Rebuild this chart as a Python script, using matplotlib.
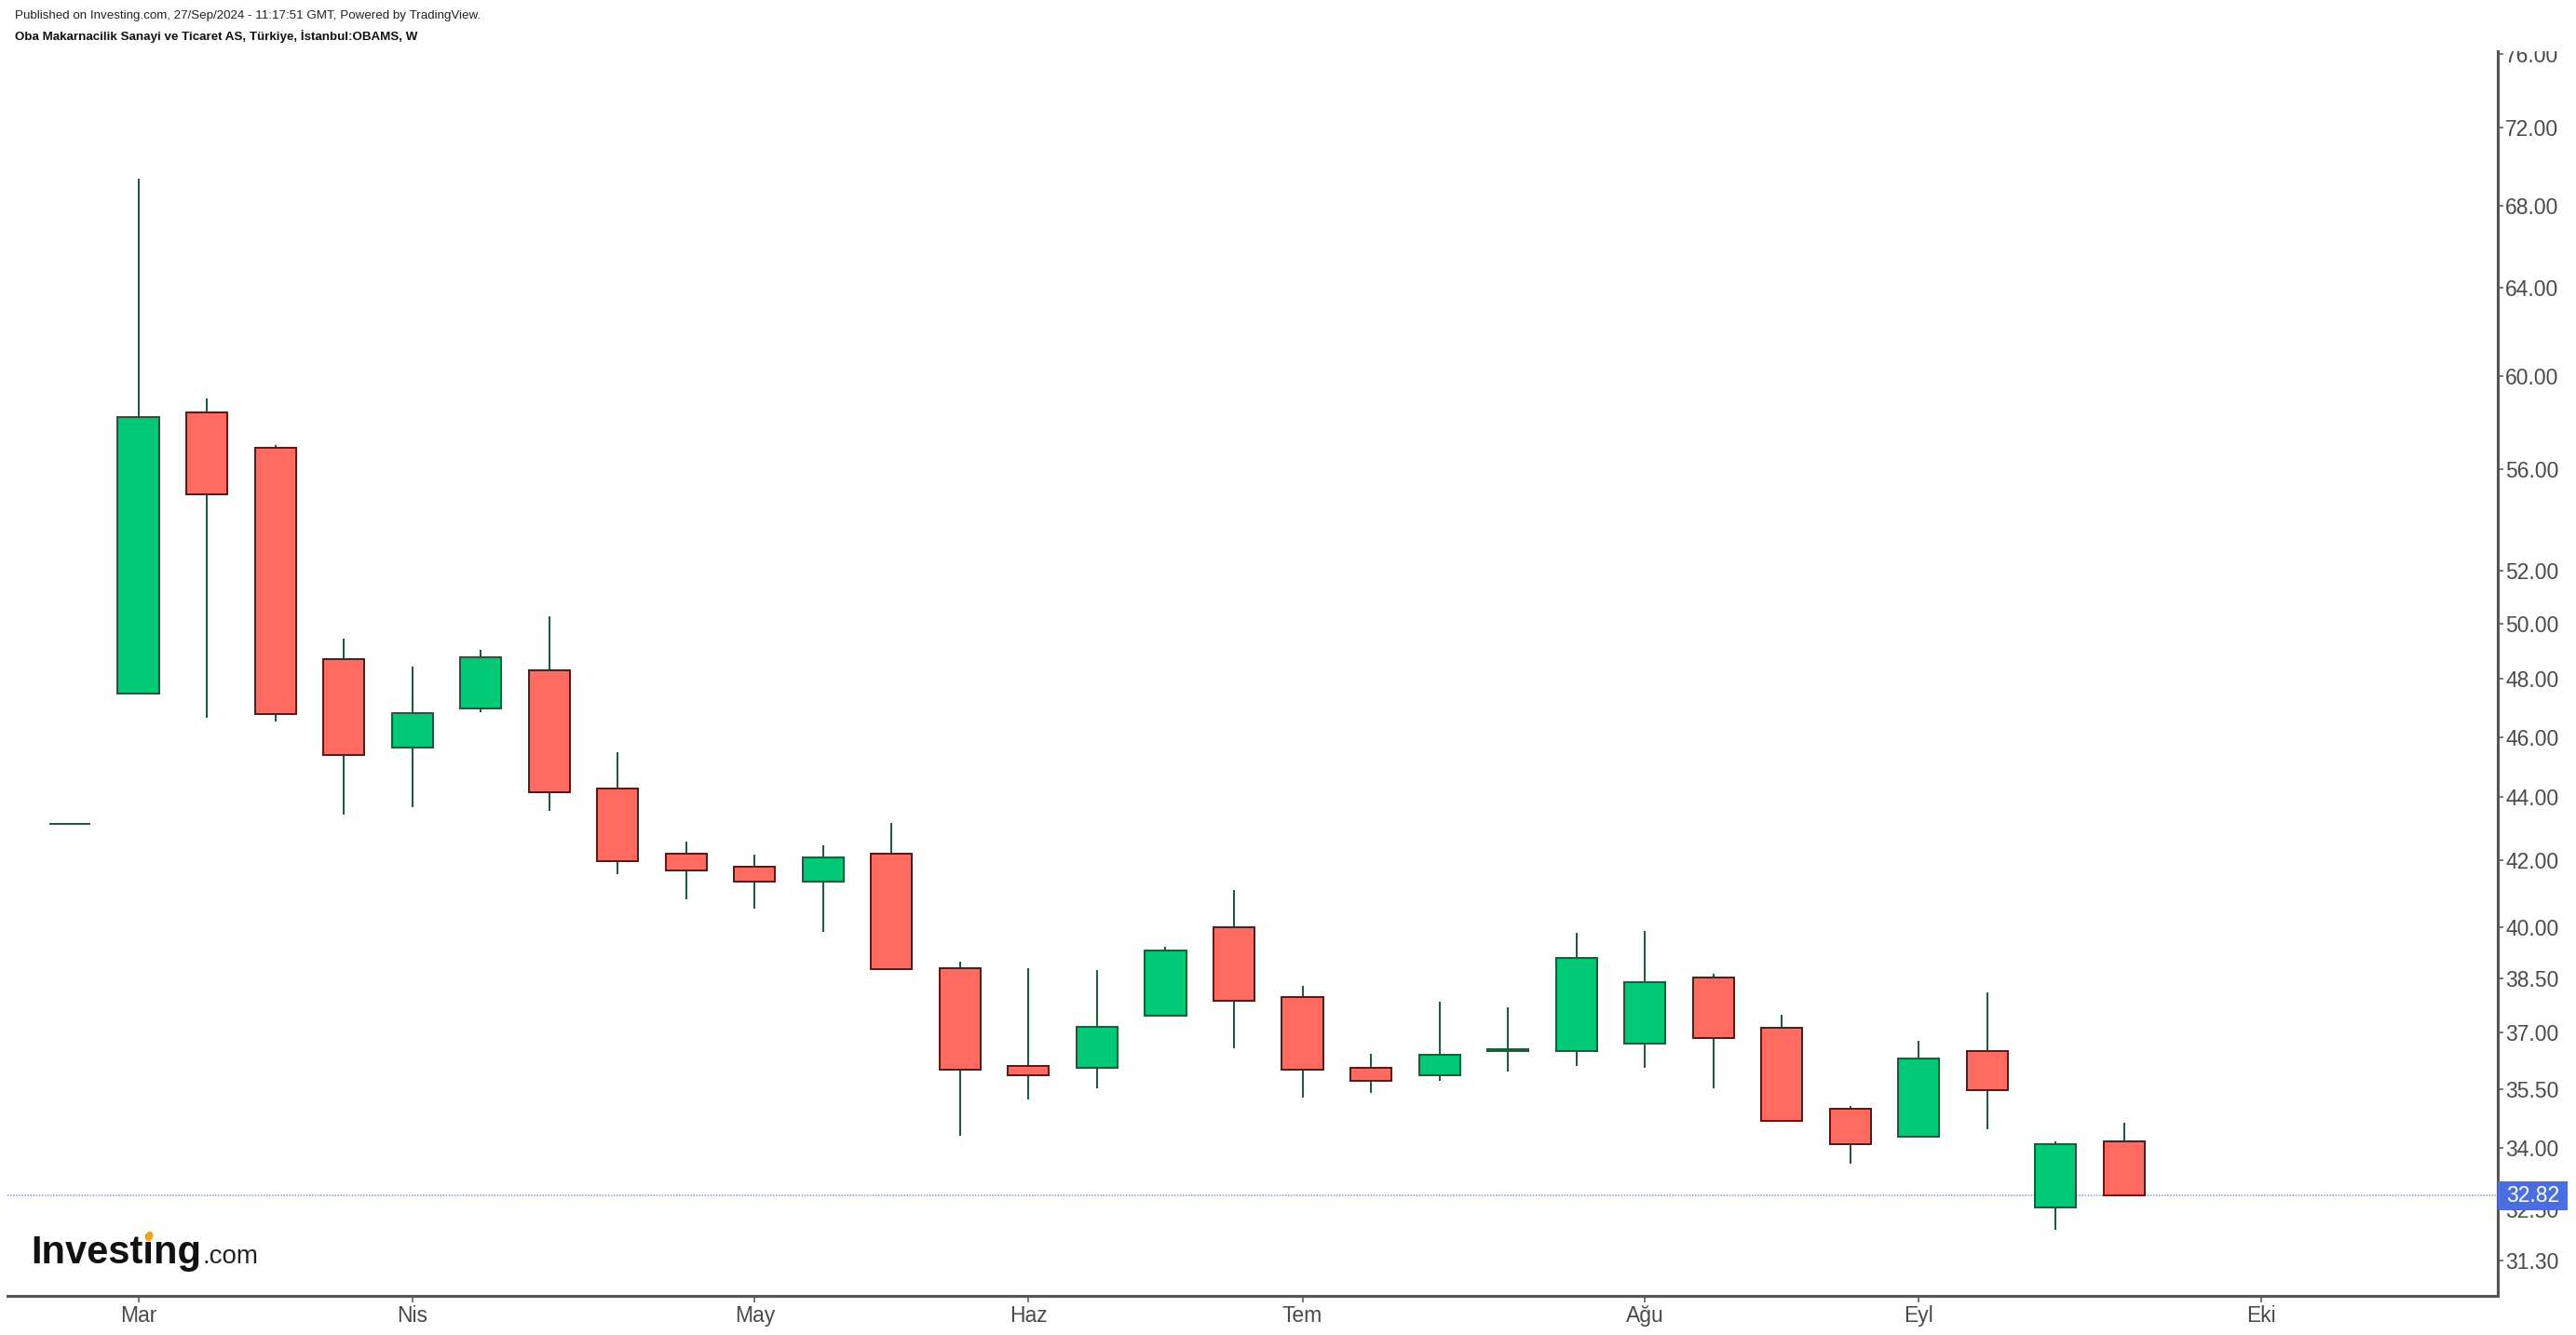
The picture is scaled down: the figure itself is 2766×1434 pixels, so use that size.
import matplotlib
matplotlib.use("Agg")
import matplotlib.pyplot as plt
import matplotlib.ticker as mticker
from matplotlib.patches import Rectangle, Ellipse
from matplotlib.transforms import IdentityTransform
import pandas as pd

# ---------------- data ----------------
week_start = "2024-02-26"
opens  = [43.16, 47.48, 58.41, 56.92, 48.70, 45.64, 46.97, 48.30, 44.30, 42.21,
          41.81, 41.35, 42.22, 38.79, 36.11, 36.06, 37.47, 39.98, 37.99, 36.06,
          35.86, 36.51, 36.51, 36.71, 38.53, 37.13, 35.00, 34.29, 36.52, 32.54,
          34.15]
highs  = [43.16, 69.36, 59.01, 57.02, 49.45, 48.44, 49.04, 50.27, 45.49, 42.59,
          42.18, 42.48, 43.18, 39.00, 38.80, 38.74, 39.43, 41.10, 38.31, 36.43,
          37.86, 37.70, 39.83, 39.88, 38.65, 37.50, 35.05, 36.78, 38.11, 34.15,
          34.63]
lows   = [43.16, 47.48, 46.66, 46.51, 43.43, 43.67, 46.83, 43.55, 41.57, 40.83,
          40.55, 39.84, 38.78, 34.31, 35.22, 35.51, 37.47, 36.59, 35.27, 35.41,
          35.72, 35.95, 36.10, 36.05, 35.51, 34.67, 33.61, 34.29, 34.46, 32.00,
          32.82]
closes = [43.16, 58.19, 54.99, 46.78, 45.40, 46.80, 48.76, 44.17, 41.98, 41.69,
          41.35, 42.11, 38.78, 36.01, 35.86, 37.17, 39.31, 37.88, 36.01, 35.72,
          36.41, 36.55, 39.09, 38.40, 36.86, 34.67, 34.09, 36.32, 35.47, 34.10,
          32.82]
last_price = 32.82
month_names = {1: "Oca", 2: "Şub", 3: "Mar", 4: "Nis", 5: "May", 6: "Haz",
               7: "Tem", 8: "Ağu", 9: "Eyl", 10: "Eki", 11: "Kas", 12: "Ara"}
y_ticks = [31.30, 32.50, 34.00, 35.50, 37.00, 38.50, 40.00, 42.00, 44.00, 46.00,
           48.00, 50.00, 52.00, 56.00, 60.00, 64.00, 68.00, 72.00, 76.00]
title1 = "Published on Investing.com, 27/Sep/2024 - 11:17:51 GMT, Powered by TradingView."
title2 = "Oba Makarnacilik Sanayi ve Ticaret AS, Türkiye, İstanbul:OBAMS, W"

# ---------------- style ----------------
W, H = 2766, 1434
GREEN_FILL, GREEN_EDGE = "#00c875", "#1d5c3c"
RED_FILL, RED_EDGE = "#ff6a61", "#5e1919"
WICK = "#1d5c3c"
AXIS_C = "#555555"
TXT_C = "#4a4a4a"
FONT = ["Liberation Sans", "DejaVu Sans"]
NARROW = ["Liberation Sans Narrow", "Liberation Sans", "DejaVu Sans"]

plt.rcParams["font.family"] = FONT

fig = plt.figure(figsize=(W / 100, H / 100), dpi=100)
fig.patch.set_facecolor("white")
left_px, right_px, top_px, bot_px = 8, 2682, 55, 1392
ax = fig.add_axes([left_px / W, 1 - bot_px / H, (right_px - left_px) / W, (bot_px - top_px) / H])

n = len(opens)
xs = list(range(n))
dates = pd.date_range(week_start, periods=40, freq="7D")

# wicks
ax.vlines(xs, lows, highs, color=WICK, linewidth=1.45, zorder=2)
# bodies
for i in xs:
    o, c = opens[i], closes[i]
    up = c >= o
    bottom = min(o, c)
    height = abs(c - o)
    ax.bar(i, height, bottom=bottom, width=0.6,
           color=GREEN_FILL if up else RED_FILL,
           edgecolor=GREEN_EDGE if up else RED_EDGE,
           linewidth=1.45, zorder=3)

# price line
ax.axhline(last_price, color="#7d98ee", linewidth=1.1, linestyle=(0, (1, 1)), zorder=1)

ax.set_yscale("log")
ax.set_ylim(30.49, 76.18)
ax.set_xlim(-0.911, 35.455)

# month ticks
mt_pos, mt_lab = [], []
for k in range(1, len(dates)):
    if dates[k].month != dates[k - 1].month and k <= 35:
        mt_pos.append(k)
        mt_lab.append(month_names[dates[k].month])
ax.set_xticks(mt_pos, mt_lab)
ax.xaxis.set_minor_locator(mticker.NullLocator())

ax.yaxis.tick_right()
ax.set_yticks(y_ticks, [f"{v:.2f}" for v in y_ticks])
ax.yaxis.set_minor_locator(mticker.NullLocator())

ax.tick_params(axis="x", length=5, width=1.1, color=AXIS_C, pad=2,
               labelsize=16.5, labelcolor=TXT_C)
ax.tick_params(axis="y", length=4, width=1.1, color=AXIS_C, pad=2,
               labelsize=16.5, labelcolor=TXT_C)

for s in ["top", "left"]:
    ax.spines[s].set_visible(False)
for s in ["right", "bottom"]:
    ax.spines[s].set_color(AXIS_C)
    ax.spines[s].set_linewidth(2.2)

# last price label box (display pixel coordinates)
y_px = ax.transData.transform((0, last_price))[1]
fig.add_artist(Rectangle((right_px, y_px - 15.5), 75, 31, transform=IdentityTransform(),
                         facecolor="#4a6de2", edgecolor="none", zorder=20))
fig.add_artist(plt.Text(right_px + 37.5, y_px, f"{last_price:.2f}", transform=IdentityTransform(),
                        color="white", fontsize=16.5, ha="center", va="center",
                        family=FONT, zorder=21))

# clip top of the y-axis labels above the pane
fig.add_artist(Rectangle((right_px + 3, H - top_px), W - right_px, top_px, transform=IdentityTransform(),
                         facecolor="white", edgecolor="none", zorder=19))

# header texts
fig.text(16 / W, 1 - 17 / H, title1, fontsize=9.6, color="#222222", ha="left", va="center",
         family=NARROW)
fig.text(16 / W, 1 - 39 / H, title2, fontsize=9.6, color="#111111", ha="left", va="center",
         family=NARROW, fontweight="bold")

# Investing.com logo
r = fig.canvas.get_renderer()
base_y = H - 1357
x0 = 33
t1 = fig.text(x0 / W, base_y / H, "Investing", fontsize=30, fontweight="bold", color="#111111",
              ha="left", va="baseline", family=FONT)
ext = t1.get_window_extent(renderer=r)
fig.text((ext.x1 + 1) / W, base_y / H, ".com", fontsize=20, color="#222222",
         ha="left", va="baseline", family=FONT)
tmp1 = fig.text(0, 0, "Invest", fontsize=30, fontweight="bold", family=FONT)
tmp2 = fig.text(0, 0, "Investi", fontsize=30, fontweight="bold", family=FONT)
w1 = tmp1.get_window_extent(renderer=r).width
w2 = tmp2.get_window_extent(renderer=r).width
tmp1.remove(); tmp2.remove()
icx = x0 + (w1 + w2) / 2
fig.add_artist(Ellipse((icx + 1, base_y + 29), 8, 11, angle=-20, transform=IdentityTransform(),
                       facecolor="#f5a11c", edgecolor="none", zorder=22))

fig.savefig("out.png", dpi=100, facecolor="white")
